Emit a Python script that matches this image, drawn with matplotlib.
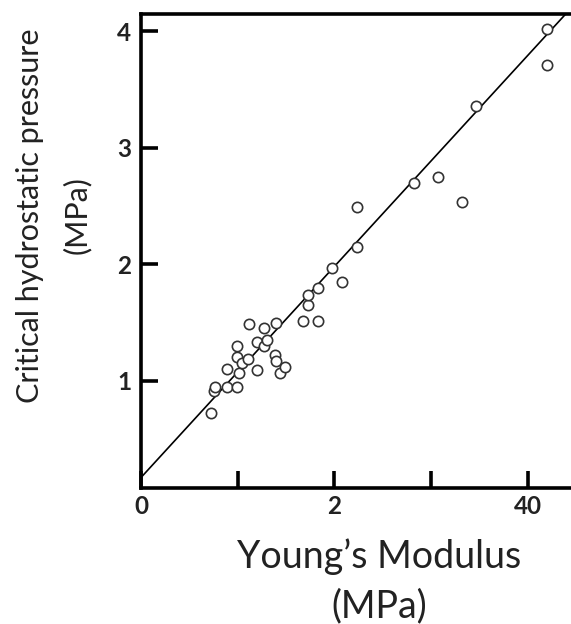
import numpy as np
import matplotlib.pyplot as plt

# Young's modulus (MPa) vs critical hydrostatic pressure (MPa)
modulus = [0.72, 0.76, 0.77, 0.89, 0.89, 0.99, 0.99, 0.99, 1.01, 1.05, 1.11,
           1.12, 1.20, 1.20, 1.27, 1.27, 1.30, 1.39, 1.40, 1.40, 1.44, 1.49,
           1.68, 1.73, 1.73, 1.83, 1.83, 1.98, 2.08, 2.23, 2.23, 2.83, 3.07,
           3.32, 3.47, 4.20, 4.20]
pressure = [0.72, 0.91, 0.95, 0.95, 1.10, 0.95, 1.20, 1.30, 1.07, 1.15, 1.19,
            1.49, 1.33, 1.09, 1.30, 1.45, 1.35, 1.22, 1.17, 1.50, 1.07, 1.12,
            1.51, 1.65, 1.74, 1.51, 1.80, 1.97, 1.85, 2.15, 2.49, 2.70, 2.75,
            2.53, 3.36, 4.02, 3.71]

fit_intercept = 0.17
fit_slope = 0.905

x_ticks = [0, 1, 2, 3, 4]
x_ticklabels = ['0', '', '2', '', '40']
y_ticks = [1, 2, 3, 4]
y_ticklabels = ['1', '2', '3', '4']

plt.rcParams['font.family'] = ['Lato', 'DejaVu Sans']

fig = plt.figure(figsize=(5.71, 6.24), dpi=100)
ax = fig.add_axes([0.247, 0.218, 0.753, 0.760])

fx = np.array([0, 5])
ax.plot(fx, fit_intercept + fit_slope * fx, color='black', lw=1.2, zorder=2)
ax.scatter(modulus, pressure, s=55, facecolors='white', edgecolors='#333333',
           linewidths=1.2, zorder=3)

ax.set_xlim(0, 4.45)
ax.set_ylim(0.08, 4.15)

ax.spines['right'].set_visible(False)
for side in ['left', 'bottom', 'top']:
    ax.spines[side].set_linewidth(2.6)
    ax.spines[side].set_color('black')

ax.set_xticks(x_ticks)
ax.set_xticklabels(x_ticklabels)
ax.set_yticks(y_ticks)
ax.set_yticklabels(y_ticklabels)
ax.tick_params(axis='both', direction='in', length=12, width=2.6, colors='black',
               labelsize=17.5, labelcolor='#222222')
ax.tick_params(axis='x', pad=5)
ax.tick_params(axis='y', pad=7)
for lab in ax.get_xticklabels() + ax.get_yticklabels():
    lab.set_fontweight('bold')

# axis titles, one text per line
fig.text(379 / 571, 1 - 557 / 624, "Young\u2019s Modulus", ha='center', va='center',
         fontsize=27, color='#222222')
fig.text(379 / 571, 1 - 606 / 624, "(MPa)", ha='center', va='center',
         fontsize=27, color='#222222')
fig.text(30 / 571, 1 - 216 / 624, "Critical hydrostatic pressure", ha='center',
         va='center', rotation=90, fontsize=22, color='#222222')
fig.text(77 / 571, 1 - 215 / 624, "(MPa)", ha='center', va='center',
         rotation=90, fontsize=22, color='#222222')

fig.savefig('out.png', dpi=100)
